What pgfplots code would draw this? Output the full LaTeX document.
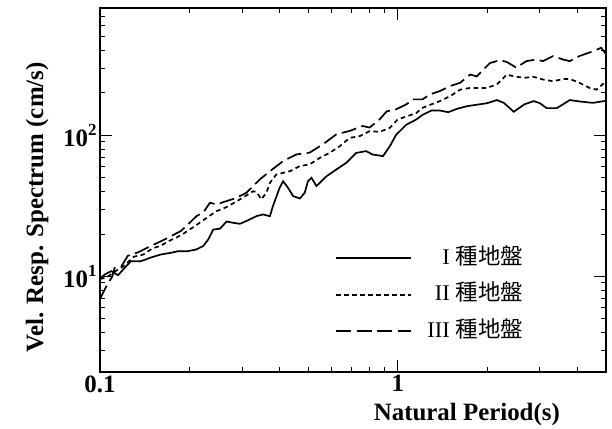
\documentclass[border=0pt]{standalone}
\usepackage{fontspec}
\setmainfont{Liberation Serif}
\newfontfamily\cjk{Noto Sans CJK JP}
\usepackage{pgfplots}
\pgfplotsset{compat=1.18}

\newcommand{\legtext}[1]{\makebox[20bp][r]{#1}\hspace{6bp}{\cjk 種地盤}}

\begin{document}
\begin{tikzpicture}
\useasboundingbox (0,0) rectangle (612bp,429bp);
\begin{axis}[
    at={(100bp,57bp)}, anchor=south west,
    width=506bp, height=364bp, scale only axis,
    xmode=log, ymode=log,
    xmin=0.1, xmax=5, ymin=2.1, ymax=800,
    xtick={0.1,1}, xticklabels={0.1,1},
    ytick={10,100},
    yticklabels={10\raisebox{0.42em}{\fontsize{17}{17}\selectfont 1},
                 10\raisebox{0.42em}{\fontsize{17}{17}\selectfont 2}},
    minor xtick={0.2,0.3,0.4,0.5,0.6,0.7,0.8,0.9,2,3,4},
    minor ytick={3,4,5,6,7,8,9,20,30,40,50,60,70,80,90,200,300,400,500,600,700},
    tick align=inside,
    major tick length=12bp, minor tick length=5bp,
    axis line style={line width=1.3bp},
    every tick/.style={black, line width=0.9bp},
    tick label style={font=\fontsize{25}{30}\selectfont\bfseries},
    label style={font=\fontsize{25}{30}\selectfont\bfseries},
    xlabel={Natural Period(s)},
    ylabel={Vel. Resp. Spectrum (cm/s)},
    xlabel style={at={(axis description cs:0.725,-0.1346)}, anchor=base},
    ylabel style={at={(axis description cs:-0.1126,0.452)}, anchor=base},
    legend style={draw=none, fill=none, inner sep=0pt,
        at={(axis description cs:0.4644,0.346)}, anchor=north west,
        font=\fontsize{22.5}{26}\selectfont,
        row sep=13.5bp, column sep=18bp,
        nodes={inner sep=0pt, text height=18bp, text depth=5bp}},
    legend cell align=left,
    legend image code/.code={\draw[#1] (0bp,-0.5bp) -- (75bp,-0.5bp);},
]

% I
\addplot[black, line width=1.7bp] table {
0.100 9.6
0.1036 10.3
0.109 10.9
0.115 10.2
0.121 11.5
0.127 12.8
0.137 12.8
0.148 13.6
0.160 14.3
0.173 14.7
0.183 15.1
0.197 15.1
0.210 15.5
0.222 16.4
0.231 18.3
0.240 21.5
0.253 21.8
0.266 24.5
0.280 24.0
0.295 23.6
0.310 24.7
0.336 26.8
0.353 27.5
0.372 26.7
0.381 31.6
0.401 42.5
0.412 47.3
0.428 42.5
0.445 37.1
0.469 35.7
0.487 39.2
0.499 47.3
0.513 50
0.533 43.7
0.576 51.3
0.622 57.3
0.672 64
0.724 75
0.782 77.4
0.822 73.2
0.892 71.3
0.940 83.7
0.987 101
1.068 119
1.153 129.5
1.212 140
1.297 150
1.384 150
1.477 146
1.576 154
1.706 161
1.843 165
1.992 169
2.152 178
2.27 170
2.45 147
2.66 166
2.86 175
3.0 169
3.16 156
3.42 156
3.78 178
4.07 174
4.52 170
5.0 176
};
\addlegendentry{\legtext{I}}

% II
\addplot[black, line width=1.7bp, dash pattern=on 4.5bp off 3.5bp] table {
0.100 9.6
0.105 9.8
0.110 10.5
0.115 11.2
0.120 11.8
0.125 12.8
0.130 13.8
0.140 14.3
0.150 15.8
0.160 16.5
0.170 17.8
0.180 18.8
0.190 20
0.200 21.5
0.210 23
0.222 25
0.234 27
0.246 29
0.266 31
0.287 34
0.310 37.5
0.327 40.2
0.336 39.5
0.348 35.2
0.362 39.2
0.372 46.1
0.391 52.8
0.434 55.7
0.469 60.6
0.506 62.3
0.548 69.4
0.591 75.3
0.638 83.7
0.689 96
0.743 98.6
0.804 107
0.869 106
0.940 113
1.0 130
1.068 136
1.153 144
1.212 157
1.297 166
1.384 175
1.50 190
1.62 211
1.75 217
1.89 217
1.99 217
2.15 230
2.24 249
2.32 270
2.45 262
2.66 256
2.86 260
3.07 249
3.32 242
3.59 251
3.78 251
4.07 236
4.40 217
4.64 211
4.87 230
5.0 249
};
\addlegendentry{\legtext{II}}

% III
\addplot[black, line width=1.7bp, dash pattern=on 15bp off 5.5bp] table {
0.100 6.9
0.105 8.5
0.110 10
0.112 11.5
0.118 11.8
0.124 14
0.134 14.8
0.148 16.4
0.165 18.3
0.187 21
0.200 24
0.211 26.8
0.222 28.3
0.234 33.3
0.246 32.4
0.266 34.2
0.287 36
0.310 39.2
0.327 43.7
0.344 48.7
0.372 55.7
0.412 65.7
0.457 73.3
0.506 75.5
0.561 86.6
0.622 101.8
0.689 107.5
0.762 116.5
0.804 113.6
0.869 130
0.918 148
0.987 153
1.068 166
1.126 180
1.21 180
1.28 195
1.384 206
1.50 224
1.62 236
1.75 270
1.84 262
1.94 293
2.04 326
2.20 341
2.32 332
2.50 302
2.70 336
2.92 345
3.07 336
3.32 365
3.59 345
3.78 336
4.07 365
4.52 395
4.82 418
5.0 376
};
\addlegendentry{\legtext{III}}

\end{axis}
\end{tikzpicture}
\end{document}
